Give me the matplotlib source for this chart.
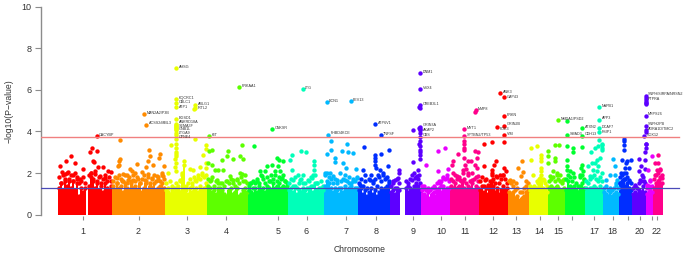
import colorsys

import matplotlib
matplotlib.use("Agg")
import matplotlib.pyplot as plt
import numpy as np

plt.rcParams['font.family'] = ['Liberation Sans', 'DejaVu Sans']

chrom_sizes = [54, 53, 42, 41, 40, 36, 34, 32, 31, 29, 29,
               29, 21, 19, 17, 20, 18, 16, 13, 14, 7, 10]

# height of the solid mass of points, evenly spaced along each chromosome
mass = [
    [1.3, 1.5, 1.2, 1.6, 1.4, 1.7, 1.3, 1.6, 1.2, 1.5, 0.9, 1.3, 1.1, 1.3, 0, 1.4, 1.8, 1.6, 1.3, 1.5, 1.2, 1.4, 1.1, 1.5, 1.3, 1.2, 1.4],
    [1.4, 1.2, 1.5, 1.3, 1.4, 1.1, 1.5, 1.3, 1.2, 1.5, 1.3, 1.4, 1.2, 1.5, 1.1, 1.3, 1.5, 1.2, 1.4, 1.3, 1.5, 1.2, 1.3, 1.4, 1.5, 1.3],
    [1.2, 1.1, 1.0, 1.2, 1.1, 1.3, 1.2, 1.1, 1.9, 2.4, 1.2, 1.0, 1.3, 1.1, 1.2, 1.3, 1.1, 1.4, 1.2, 1.3, 1.5],
    [1.4, 1.3, 1.1, 1.2, 1.0, 1.3, 1.1, 1.2, 1.0, 0.9, 1.2, 1.3, 1.0, 1.1, 1.3, 0.9, 1.0, 1.2, 1.3, 1.1],
    [1.2, 1.1, 1.0, 1.3, 1.1, 1.4, 1.2, 1.3, 1.1, 1.4, 1.3, 1.2, 1.5, 1.3, 1.4, 1.5, 1.3, 1.4, 1.3, 1.4],
    [1.2, 1.3, 1.1, 1.4, 1.0, 1.2, 1.1, 1.3, 1.2, 1.0, 1.3, 1.4, 1.1, 1.5, 1.2, 1.1, 1.3, 1.2],
    [1.4, 1.6, 1.5, 1.3, 1.1, 1.3, 1.2, 1.0, 1.3, 1.1, 1.4, 1.2, 1.3, 1.4, 1.2, 1.3, 1.3],
    [1.2, 1.3, 1.0, 1.2, 0.9, 1.1, 1.3, 1.0, 1.2, 0.9, 1.1, 1.3, 1.2, 1.3, 1.4, 1.5],
    [1.1, 1.2, 1.0, 1.3, 1.2, 0, 0, 0, 1.3, 1.1, 1.3, 1.2, 1.4, 1.5, 1.4, 1.2],
    [1.2, 1.0, 0.9, 1.1, 0.8, 1.0, 1.1, 0.9, 1.2, 1.3, 1.1, 1.4, 1.2, 1.3, 1.3],
    [1.4, 1.3, 1.5, 1.3, 1.4, 1.2, 1.6, 1.3, 1.2, 1.4, 1.3, 1.5, 1.2, 1.4, 1.3],
    [1.2, 1.4, 1.1, 1.3, 1.0, 1.3, 1.6, 1.4, 1.1, 1.3, 1.0, 1.2, 1.4, 1.2, 1.3],
    [1.1, 1.0, 1.1, 0.8, 0.9, 0.7, 0.8, 0.9, 1.1, 1.2],
    [1.2, 1.1, 1.2, 1.1, 1.2, 1.4, 1.6, 1.3, 1.2, 1.1],
    [1.3, 1.4, 1.3, 1.2, 1.4, 1.3, 1.2, 1.2, 1.3],
    [1.2, 1.6, 1.4, 1.3, 1.4, 1.2, 1.1, 1.4, 1.5, 1.3],
    [1.3, 1.2, 1.3, 1.3, 1.4, 1.3, 1.2, 1.4, 1.2],
    [1.1, 1.0, 0.9, 1.1, 0.9, 1.0, 1.1, 1.0],
    [1.5, 1.6, 1.7, 1.4, 1.5, 1.3, 1.2],
    [1.0, 1.1, 1.0, 1.2, 1.1, 1.4, 1.1],
    [1.0, 1.1, 1.2, 1.1],
    [1.3, 1.5, 1.6, 1.8, 1.5],
]

# loose points just over the mass, evenly spaced along each chromosome, 0 = none
upper = [
    [1.8, 1.5, 1.9, 1.7, 2.0, 1.6, 1.9, 1.6, 2.0, 1.7, 1.5, 1.6, 1.8, 1.5, 0, 1.9, 2.0, 1.7, 2.1, 1.6, 1.8, 1.5, 1.7, 1.9, 1.6, 1.8, 1.6],
    [1.6, 1.8, 1.5, 1.9, 1.7, 1.6, 1.9, 1.5, 1.8, 1.6, 1.9, 1.6, 1.8, 1.5, 1.7, 1.9, 1.6, 1.8, 1.5, 1.7, 1.9, 1.6, 1.8, 1.6, 1.9, 1.7],
    [1.5, 1.3, 1.6, 1.4, 1.3, 1.5, 1.4, 1.6, 2.0, 2.6, 1.4, 1.5, 1.7, 1.4, 1.8, 1.6, 1.9, 1.7, 2.0, 1.8, 1.9],
    [1.7, 1.6, 1.8, 1.4, 1.6, 1.5, 1.3, 1.5, 1.4, 1.6, 1.5, 1.7, 1.5, 1.4, 1.7, 1.5, 1.8, 1.6, 1.9, 1.5],
    [1.4, 1.5, 1.3, 1.5, 1.7, 1.5, 1.9, 1.7, 1.5, 1.8, 1.6, 1.9, 1.7, 1.9, 1.6, 1.8, 1.7, 1.9, 1.6, 1.5],
    [1.5, 1.7, 1.4, 1.8, 1.3, 1.5, 1.7, 1.9, 1.5, 1.3, 1.6, 1.8, 1.4, 1.9, 1.5, 1.3, 1.6, 1.4],
    [1.9, 2.0, 1.8, 1.7, 1.5, 1.7, 1.5, 1.3, 1.6, 1.7, 1.9, 1.6, 1.8, 1.5, 1.7, 1.6, 1.8],
    [1.5, 1.7, 1.4, 1.6, 1.3, 1.7, 1.9, 1.5, 1.7, 1.4, 1.8, 1.6, 1.9, 1.7, 1.8, 1.6],
    [1.4, 1.6, 1.3, 1.7, 1.5, 0, 0, 0, 1.6, 1.4, 1.7, 1.9, 2.0, 1.8, 1.7, 1.5],
    [1.4, 1.3, 1.2, 1.3, 1.2, 1.3, 1.4, 1.3, 1.5, 1.6, 1.4, 1.8, 1.7, 1.9, 1.6],
    [1.7, 1.6, 1.9, 1.7, 1.8, 1.6, 2.0, 1.7, 1.5, 1.9, 1.6, 2.0, 1.7, 1.8, 1.6],
    [1.6, 1.8, 1.4, 1.7, 1.3, 1.6, 2.0, 1.7, 1.5, 1.8, 1.5, 1.7, 1.9, 1.7, 1.5],
    [1.6, 1.5, 1.4, 1.2, 1.3, 1.1, 1.1, 1.3, 1.4, 1.5],
    [1.4, 1.3, 1.4, 1.3, 1.5, 1.7, 1.9, 1.7, 1.5, 1.4],
    [1.6, 1.7, 1.8, 1.6, 1.9, 1.7, 1.6, 1.5, 1.7],
    [1.7, 1.9, 1.8, 1.6, 1.8, 1.5, 1.4, 1.8, 1.9, 1.7],
    [1.6, 1.5, 1.7, 1.8, 1.9, 1.7, 1.6, 1.8, 1.6],
    [1.3, 1.4, 1.2, 1.3, 1.2, 1.3, 1.5, 1.3],
    [1.8, 1.9, 2.0, 1.7, 1.8, 1.6, 1.5],
    [1.3, 1.4, 1.3, 1.5, 1.6, 1.8, 1.5],
    [1.3, 1.4, 1.6, 1.4],
    [1.7, 1.9, 2.0, 2.2, 1.9],
]

# (offset in chromosome, -log10 p) for the points standing above the mass
points = [
    [(2, 2.32), (8, 2.56), (13, 2.8), (17, 2.5), (25, 2.2), (34, 3.2), (32, 3.0), (39, 3.08), (35, 2.6), (36, 2.53), (40, 2.3), (45, 2.3), (50, 2.08), (53, 2.03), (38.7, 3.78), (4, 2.05), (7, 1.95), (10, 2.05), (15, 1.9), (19, 1.8), (22, 1.7), (33, 2.0), (37, 1.95), (42, 1.85), (47, 1.75)],
    [(8, 3.61), (8, 2.68), (7, 2.56), (7, 2.4), (6, 2.32), (37, 3.1), (38, 2.84), (36, 2.56), (48, 2.93), (47, 2.73), (41, 2.4), (52, 2.35), (25, 2.42), (34, 2.3), (18, 2.2), (11, 1.97), (15, 1.92), (20, 2.08), (23, 2.0), (30, 2.03), (36, 1.97), (45, 1.87), (50, 2.0), (51, 1.84), (5, 1.76), (21, 1.68), (26, 1.7), (33, 1.68), (40, 1.76), (46, 1.68), (10, 1.6), (16, 1.68), (32, 4.83), (34, 4.33)],
    [(11, 7.05), (11, 5.55), (11, 5.35), (11, 5.2), (11, 4.6), (11, 4.35), (11, 4.3), (11, 4.25), (11, 4.2), (11, 4.15), (11, 4.1), (11, 4.05), (11, 3.95), (11, 3.85), (11, 3.65), (11, 3.4), (11, 3.2), (11, 3.0), (10.5, 2.9), (11, 2.8), (10, 2.7), (11, 2.5), (10, 2.3), (11, 2.1), (30, 5.25), (30, 5.15), (29.5, 5.1), (30, 3.65), (6, 3.34), (25, 2.2), (28, 2.13), (35, 2.3), (38, 2.89), (41, 3.37), (41, 3.16), (41, 2.48), (41, 2.24), (37, 1.92), (33, 1.76), (30, 1.68), (27, 1.5), (3, 2.0), (15, 1.68)],
    [(2.5, 3.78), (2, 3.05), (5, 3.13), (1, 2.48), (5, 2.4), (8, 2.13), (11, 2.13), (16, 2.13), (15, 2.65), (21, 3.05), (20, 2.84), (26, 2.68), (33, 2.84), (35, 3.37), (36, 2.68), (33, 2.0), (35, 1.97), (4, 1.68), (10, 1.68), (20, 1.6), (23, 1.84), (26, 1.68), (13, 1.5), (30, 1.65), (38, 1.6), (32, 6.12)],
    [(6, 3.29), (29, 2.73), (35, 2.56), (31, 2.65), (24, 2.4), (17, 2.08), (12, 2.08), (19, 2.32), (27, 2.08), (30, 2.32), (32, 2.08), (9, 1.6), (14, 1.84), (2, 1.5), (22, 1.6), (34, 1.76), (37, 1.6), (5, 1.6), (24, 4.1)],
    [(4, 2.89), (2, 2.65), (4, 2.13), (13, 3.05), (18, 3.02), (26, 2.56), (26, 2.4), (26, 2.16), (25, 1.92), (24, 1.76), (10, 1.92), (12, 1.68), (20, 1.68), (29, 1.5), (5, 1.68), (15, 1.5), (14.7, 6.04)],
    [(3, 2.93), (7, 3.13), (7.5, 3.53), (11, 2.73), (11, 2.53), (4, 3.85), (22.7, 3.38), (26.7, 5.47), (2.7, 5.4), (17.7, 3.08), (24, 3.02), (29, 2.97), (19, 2.48), (22, 2.24), (32, 2.19), (16, 2.0), (1, 2.0), (6, 2.0), (9, 1.84), (13, 1.68), (21, 1.68), (29, 1.6), (33, 1.76), (25, 1.5)],
    [(5.7, 3.26), (17, 2.89), (17, 2.73), (17, 2.56), (17, 2.4), (23, 2.94), (31, 3.1), (5, 2.16), (7, 1.92), (18, 2.24), (22, 2.16), (25, 2.0), (30, 2.32), (12, 1.68), (15, 1.6), (28, 1.76), (2, 1.44), (20, 1.92), (17, 4.35), (22.7, 3.82)],
    [(9, 2.16), (9, 2.0), (8, 1.76), (3, 1.5), (5, 1.68), (18, 1.5), (23, 2.53), (30, 6.8), (30, 6.03), (30, 5.25), (29.5, 5.2), (30, 5.15), (30, 4.2), (29.5, 4.15), (30, 4.1), (30, 4.05), (30, 3.95), (30, 3.75), (30, 3.55), (29.5, 3.4), (30, 3.3), (30, 3.1), (30, 3.0), (30, 2.85), (30, 2.7), (22.7, 4.06), (29, 1.9), (25, 1.76), (27, 1.84), (22, 1.68), (28.5, 2.16)],
    [(5, 2.4), (17, 3.08), (24, 3.21), (17, 2.08), (27, 2.19), (22, 1.76), (20, 1.6), (19, 1.5), (26, 1.76), (3, 1.4)],
    [(14, 4.12), (14, 3.78), (14, 3.55), (14, 3.4), (14, 3.2), (14, 3.1), (8, 2.92), (14, 2.73), (15, 2.4), (3, 2.56), (2, 2.4), (3, 2.0), (13, 2.16), (18, 2.56), (21, 2.56), (25, 3.05), (28, 3.02), (27, 2.73), (25, 2.4), (27, 2.24), (7, 1.84), (10, 1.68), (18, 2.0), (22, 1.68), (28, 1.84), (16, 2.19), (25.7, 5.02), (25.2, 4.96)],
    [(5, 3.42), (13, 3.48), (25, 3.48), (5, 2.35), (17, 2.56), (15, 2.4), (25, 2.24), (27, 2.08), (13, 2.16), (13, 1.92), (6, 1.68), (21, 1.92), (24, 1.92), (17, 1.84), (9, 1.44), (21, 5.83), (25, 5.66), (25, 4.74), (25, 4.26), (18, 4.21), (25, 3.83)],
    [(14, 2.56), (10, 2.24), (15, 2.03), (13, 1.84), (2, 1.68), (5, 1.6), (8, 1.5), (18, 1.6)],
    [(2, 3.2), (8, 3.29), (12, 2.89), (12, 2.73), (12, 2.56), (12, 2.24), (12, 2.08), (2, 2.61), (4, 1.92), (11, 1.76), (15, 1.68), (8, 1.6)],
    [(0, 3.05), (0, 2.8), (0, 2.48), (7, 3.34), (11, 3.34), (7, 2.73), (7, 2.56), (5, 2.08), (9, 2.0), (12, 1.92), (2, 1.84), (15, 1.68), (10, 4.54)],
    [(2, 3.32), (8, 3.2), (8, 3.0), (2, 2.61), (2, 2.32), (2, 2.16), (5, 2.08), (8, 2.0), (17, 3.26), (17, 2.4), (16, 2.24), (18, 2.08), (15, 1.92), (19, 1.68), (2, 4.5), (17, 4.15), (2, 3.83), (17, 3.8)],
    [(14, 3.61), (17.5, 3.42), (17, 3.2), (13, 3.32), (17.5, 3.34), (10, 3.2), (6, 3.0), (17.5, 3.13), (12, 2.65), (15, 2.73), (10, 2.48), (7, 2.48), (3, 2.32), (13, 2.32), (8, 2.16), (12, 2.08), (17, 2.0), (5, 1.84), (13, 1.68), (14, 5.16), (14, 4.57), (14, 4.15), (14, 3.98)],
    [(10, 2.68), (12, 2.32), (7, 1.92), (12, 1.92), (3, 1.68), (14, 1.68), (13, 1.44)],
    [(5, 3.66), (5, 3.53), (5, 3.34), (5, 3.1), (3, 2.65), (7, 2.48), (12, 2.65), (8, 2.56), (10, 2.24), (6, 2.24), (7, 2.0), (2, 2.0), (10, 1.68), (4, 1.68), (1, 1.5)],
    [(14, 3.42), (14, 3.2), (13.5, 3.0), (7.5, 2.7), (13, 2.65), (9, 2.35), (13.5, 2.2), (7.5, 2.08), (10, 1.92), (8, 1.68), (12, 1.6), (3, 1.44), (13.7, 5.72), (13.7, 5.6), (13.7, 5.5), (13.7, 5.4), (13.7, 5.35), (13.7, 5.3), (13.7, 4.76), (13.7, 4.28), (13.7, 4.05), (13.7, 3.98), (12, 3.78), (13.7, 3.4)],
    [(6, 2.8), (2.5, 2.16), (4, 1.68), (1, 1.44)],
    [(5, 2.89), (5.5, 2.48), (2, 2.5), (7, 2.16), (4, 2.16), (9, 1.76), (2, 1.92), (6, 1.68)],
]

# gene label: chromosome number, offset, label height, name
genes = [
    (1, 38.7, 3.78, "CACYBP"), (2, 32, 4.83, "MAN2A2/P3B"), (2, 34, 4.33, "ACSS2/MBL3"),
    (3, 11, 7.05, "AHSG"), (3, 11, 5.55, "KQCRC1"), (3, 11, 5.34, "CBLC1"), (3, 11, 5.13, "ATP1"),
    (3, 11, 4.6, "EGSD1"), (3, 11, 4.4, "ANKRD18A"), (3, 11, 4.22, "SEMA3F"), (3, 11, 4.04, "GNB1L"),
    (3, 11, 3.86, "LTGA9"), (3, 11, 3.68, "CPNE4"), (3, 30, 5.25, "ABLG1"), (3, 30, 5.05, "IRTL2"),
    (4, 2.5, 3.78, "KIT"), (4, 32, 6.12, "PRKAA1"), (5, 24, 4.1, "CNKSR"), (6, 14.7, 6.04, "LTG"),
    (7, 2.7, 5.4, "ECN1"), (7, 26.7, 5.47, "FEV13"), (7, 4, 3.85, "FHBD4KCE"), (8, 17, 4.35, "ATP6V1"),
    (8, 22.7, 3.82, "TNFSF"), (9, 30, 6.8, "DNM1"), (9, 30, 6.03, "VSX4"), (9, 30, 5.25, "CREB3L1"),
    (9, 30, 4.25, "GRIN3A"), (9, 30, 4.03, "AKAP2"), (9, 30, 3.78, "CBS"), (11, 14, 4.12, "MYT1"),
    (11, 14, 3.78, "SPTBN2/TP53"), (11, 25.7, 5.02, "MMP8"), (12, 21, 5.83, "ANK3"), (12, 25, 5.6, "GAP43"),
    (12, 25, 4.74, "PRKN"), (12, 25, 4.3, "GRIN2B"), (12, 18, 4.08, "PDE3"), (12, 25, 3.83, "VIM"),
    (15, 10, 4.54, "NMDA1/PSD2"), (16, 17, 4.15, "ATXN2"), (16, 2, 3.83, "SMAD3"), (16, 17, 3.8, "CDH13"),
    (17, 14, 5.16, "NAPB1"), (17, 14, 4.57, "APP3"), (17, 14, 4.15, "DCAF7"), (17, 14, 3.92, "FSIP1"),
    (20, 13.7, 5.72, "SNPH/SIRPA/NRSN2"), (20, 13.7, 5.5, "PTPRA"), (20, 13.7, 4.76, "MRPS26"),
    (20, 13.7, 4.28, "SNPH2PB"), (20, 13.7, 4.05, "ADRA1D/TMC2"), (20, 12, 3.78, "SOX12"),
]

tick_pos = [25, 80.5, 129.5, 168, 220, 248.5, 288, 318, 355.5, 383, 407,
            435, 458, 481.5, 500, 514, 536, 554.7, 570, 582, 593.7, 599]
tick_labels = ['1', '2', '3', '4', '5', '6', '7', '8', '9', '10', '11',
               '12', '13', '14', '15', '', '17', '18', '', '20', '', '22']
y_ticks = [0, 2, 4, 6, 8, 10]
suggestive = 3.72
nominal = 1.3


def main():
    fig = plt.figure(figsize=(6.85, 2.58), dpi=100)
    ax = fig.add_axes([41 / 685, 42 / 258, 644 / 685, 209.3 / 258])
    ax.set_xlim(-17, 627)
    ax.set_ylim(-0.065, 10)

    starts = np.concatenate([[0], np.cumsum(chrom_sizes)[:-1]])
    for i, size in enumerate(chrom_sizes):
        color = colorsys.hsv_to_rgb((i % 11) / 11, 1, 1)
        heights = np.array(mass[i])
        width = size / len(heights)
        xs = starts[i] + (np.arange(len(heights)) + 0.5) * width
        # a little wider than the bin, so no white seams appear between columns
        ax.bar(xs, heights, width=width * 1.25, color=[color], linewidth=0)
        tops = heights > 0
        ax.scatter(xs[tops], heights[tops], s=10, color=[color], linewidths=0, zorder=2)

        loose = np.array(upper[i])
        xu = starts[i] + (np.arange(len(loose)) + 0.5) * size / len(loose)
        keep = loose > 0
        ax.scatter(xu[keep], loose[keep], s=10, color=[color], linewidths=0, zorder=2)

        px = [starts[i] + p[0] for p in points[i]]
        py = [p[1] for p in points[i]]
        ax.scatter(px, py, s=10, color=[color], linewidths=0, zorder=2)

    for chrom, off, val, name in genes:
        x = starts[chrom - 1] + off
        ax.text(x + 2.5, val + 0.06, name, fontsize=2.7, color='#333333',
                va='center', ha='left', zorder=4)

    ax.plot([-17, 621], [suggestive, suggestive], color='#f08080', lw=1, zorder=3)
    ax.plot([-17, 621], [nominal, nominal], color='#4a4ab8', lw=0.9, zorder=3)

    for side in ['top', 'right', 'bottom']:
        ax.spines[side].set_visible(False)
    ax.spines['left'].set_bounds(0, 10)
    ax.spines['left'].set_color('#8c8c8c')
    ax.spines['left'].set_linewidth(1)

    ax.set_yticks(y_ticks)
    ax.tick_params(axis='y', length=4.3, width=0.8, color='#8c8c8c', pad=2.5,
                   labelsize=6.5, labelcolor='#333333')
    ax.set_xticks(tick_pos)
    ax.set_xticklabels(tick_labels)
    ax.tick_params(axis='x', length=3.2, width=0.8, color='#8c8c8c', pad=4.5,
                   labelsize=6.5, labelcolor='#333333')

    fig.text(9 / 685, 1 - 111 / 258, '\u2212log10(P\u2212value)', rotation=90,
             fontsize=6.2, color='#333333', ha='center', va='center')
    fig.text(360 / 685, 1 - 250 / 258, 'Chromosome', fontsize=6.2,
             color='#333333', ha='center', va='center')

    fig.savefig('out.png', dpi=100)


if __name__ == "__main__":
    main()
